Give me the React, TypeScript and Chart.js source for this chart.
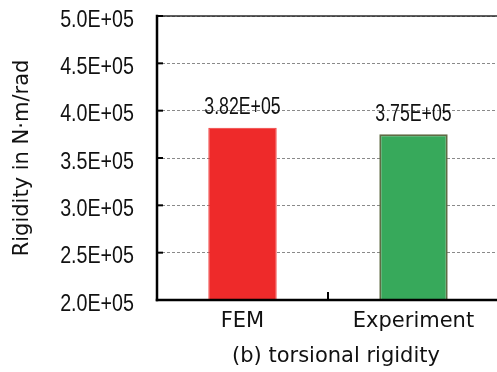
import React, { useEffect, useRef } from "react";
import { Chart, registerables } from "chart.js";

Chart.register(...registerables);

// Torsional rigidity: FEM result vs. measured value
const categories = ["FEM", "Experiment"];
const rigidity = [3.82e5, 3.75e5];
const barFill = ["#EE2A2A", "#37A95B"];
const barEdge = ["#F03C3C", "#5F6B44"];
const yMin = 2.0e5;
const yMax = 5.0e5;
const yStep = 0.5e5;
const yTitle = "Rigidity in N·m/rad";
const caption = "(b) torsional rigidity";

const SANS = "'DejaVu Sans', 'Liberation Sans', sans-serif";
const NUM_FAMILY = "'Liberation Sans', Arial, sans-serif";

// 382000 -> "3.82E+05"
function sci(v: number, digits: number): string {
  const [m, e] = v.toExponential(digits).split("e");
  const n = parseInt(e, 10);
  const sign = n < 0 ? "-" : "+";
  return `${m}E${sign}${String(Math.abs(n)).padStart(2, "0")}`;
}

// numbers are set in a condensed face: draw anchored at (x, baseline y), squeezed horizontally
function squeezedText(
  ctx: CanvasRenderingContext2D,
  text: string,
  x: number,
  y: number,
  align: CanvasTextAlign,
  size: number,
  squeeze: number
) {
  ctx.save();
  ctx.translate(x, y);
  ctx.scale(squeeze, 1);
  ctx.font = `${size}px ${NUM_FAMILY}`;
  ctx.textAlign = align;
  ctx.textBaseline = "alphabetic";
  ctx.fillText(text, 0, 0);
  ctx.restore();
}

const decorations = {
  id: "decorations",
  afterDatasetsDraw(chart: any) {
    const { ctx, chartArea: a, scales } = chart;
    const ys = scales.y;
    const xs = scales.x;
    const line = (x1: number, y1: number, x2: number, y2: number) => {
      ctx.beginPath();
      ctx.moveTo(x1, y1);
      ctx.lineTo(x2, y2);
      ctx.stroke();
    };
    ctx.save();

    // top frame line
    ctx.strokeStyle = "#2a2a2a";
    ctx.lineWidth = 1.5;
    line(a.left, a.top, a.right, a.top);

    // inward tick marks on the value axis
    ctx.strokeStyle = "#000";
    ctx.lineWidth = 2;
    ys.ticks.forEach((t: any) => {
      const py = ys.getPixelForValue(t.value);
      line(a.left, py, a.left + 6, py);
    });

    // category boundary marks on the category axis
    for (let i = 1; i < categories.length; i++) {
      const px = (xs.getPixelForValue(i - 1) + xs.getPixelForValue(i)) / 2;
      line(px, a.bottom, px, a.bottom - 8);
    }

    // axis lines
    ctx.lineWidth = 2.5;
    ctx.lineCap = "square";
    line(a.left, a.top, a.left, a.bottom);
    line(a.left, a.bottom, a.right, a.bottom);

    ctx.fillStyle = "#111";

    // value-axis tick labels
    ys.ticks.forEach((t: any) => {
      const py = ys.getPixelForValue(t.value);
      squeezedText(ctx, sci(t.value, 1), a.left - 23, py + 10.5, "right", 24, 0.82);
    });

    // value labels above the bars
    const meta = chart.getDatasetMeta(0);
    meta.data.forEach((bar: any, i: number) => {
      squeezedText(ctx, sci(rigidity[i], 2), bar.x, bar.y - 13.5, "center", 23, 0.77);
    });

    // caption below the chart
    ctx.font = `21px ${SANS}`;
    ctx.textAlign = "center";
    ctx.textBaseline = "alphabetic";
    ctx.fillText(caption, (a.left + a.right) / 2 + 8, 362);

    ctx.restore();
  },
};

export default function App() {
  const ref = useRef<HTMLCanvasElement | null>(null);

  useEffect(() => {
    document.body.style.margin = "0";
    const canvas = ref.current;
    if (!canvas) return;
    const chart = new Chart(canvas, {
      type: "bar",
      data: {
        labels: categories,
        datasets: [
          {
            data: rigidity,
            backgroundColor: barFill,
            borderColor: barEdge,
            borderWidth: [1, 2],
            borderSkipped: "bottom",
            base: yMin,
            categoryPercentage: 1,
            barPercentage: 0.4,
          },
        ],
      },
      options: {
        animation: false,
        responsive: false,
        devicePixelRatio: 1,
        layout: { padding: { left: 0, right: 11, top: 16, bottom: 0 } },
        plugins: {
          legend: { display: false },
          tooltip: { enabled: false },
          title: { display: false },
        },
        scales: {
          x: {
            type: "category",
            offset: true,
            grid: { display: false, drawTicks: false },
            border: { display: false },
            ticks: {
              color: "#111",
              padding: 9,
              font: { family: SANS, size: 21 },
            },
            afterFit: (s: any) => {
              s.height = 72;
            },
          },
          y: {
            min: yMin,
            max: yMax,
            grid: {
              color: "#8a8a8a",
              lineWidth: 1,
              drawTicks: false,
            },
            border: { display: false, dash: [3, 2] },
            ticks: {
              stepSize: yStep,
              display: false,
            },
            title: {
              display: true,
              text: yTitle,
              color: "#111",
              padding: { top: 10, bottom: 0 },
              font: { family: SANS, size: 21 },
            },
            afterFit: (s: any) => {
              s.width = 157;
            },
          },
        },
      },
      plugins: [decorations],
    } as any);
    return () => chart.destroy();
  }, []);

  return (
    <div
      style={{
        position: "fixed",
        left: 0,
        top: 0,
        width: 497,
        height: 372,
        overflow: "hidden",
        background: "#fff",
      }}
    >
      <canvas ref={ref} width={510} height={372} style={{ width: 510, height: 372, display: "block" }} />
    </div>
  );
}
